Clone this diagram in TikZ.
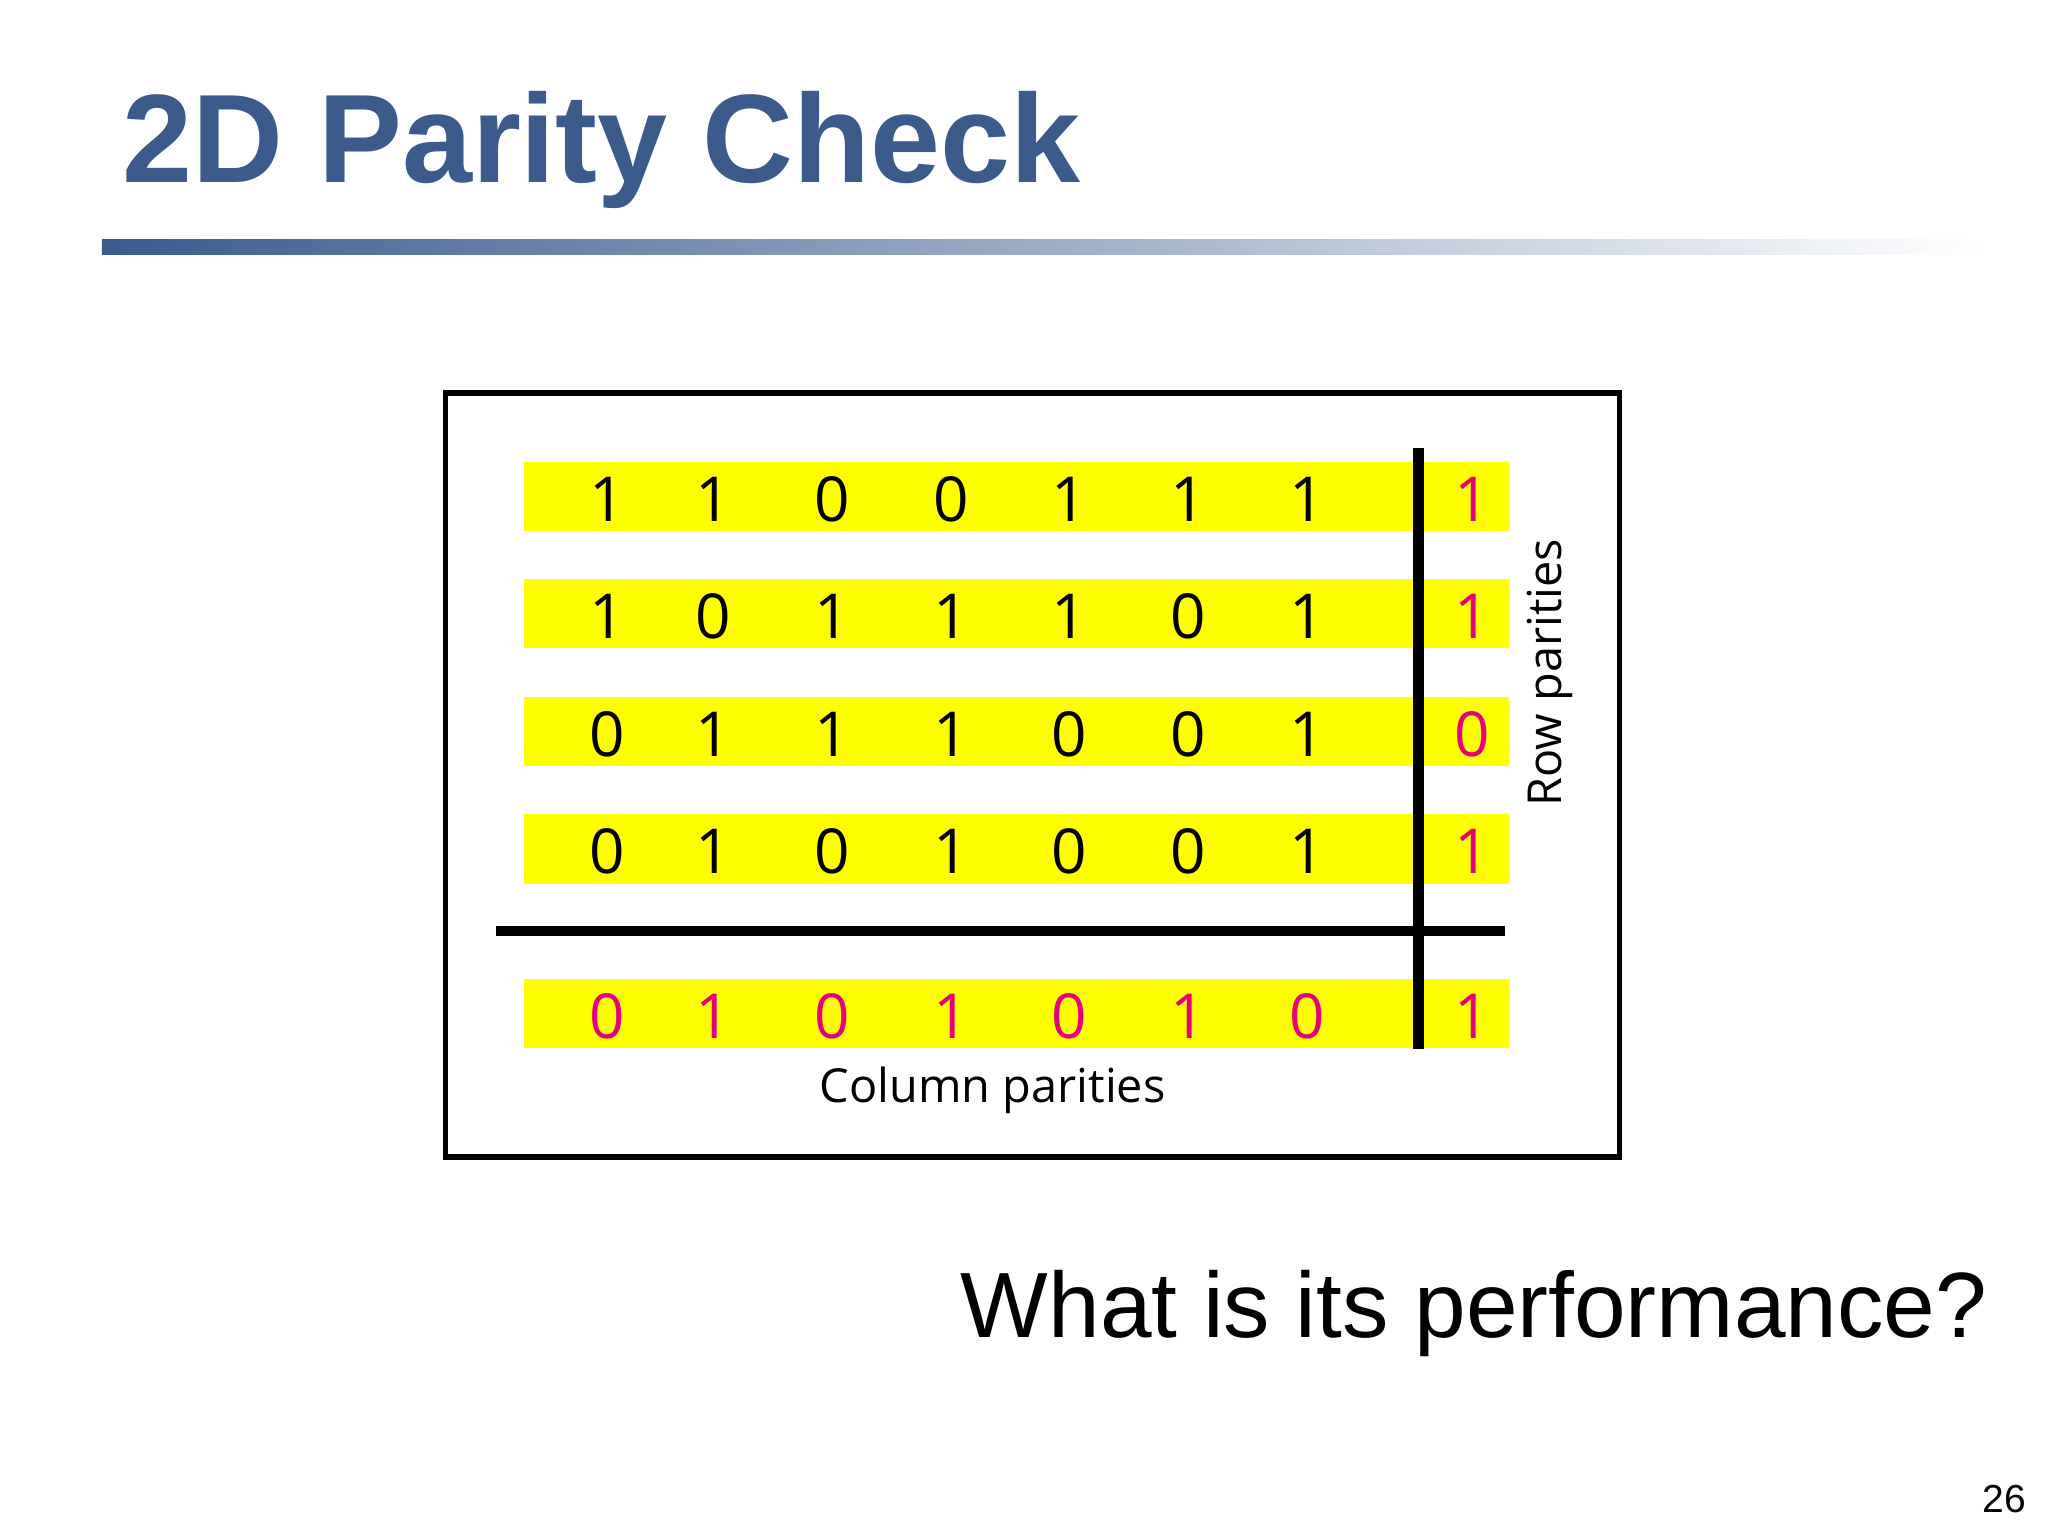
\documentclass[tikz,border=0pt]{standalone}
\usepackage{fontspec}
\setmainfont{Liberation Sans}
\newfontfamily\digfont{Open Sans}
\definecolor{titleblue}{HTML}{3B5B8C}
\definecolor{mag}{HTML}{E6007E}
\definecolor{yel}{HTML}{FFFF00}
\begin{document}
\begin{tikzpicture}[x=0.01cm,y=-0.01cm,
  dig/.style={font=\digfont\fontsize{13.5}{16}\selectfont,inner sep=0pt},
  par/.style={dig,text=mag},
  lab/.style={font=\digfont\fontsize{10.2}{12}\selectfont}]
\useasboundingbox (0,0) rectangle (1568,1176);
\fill[white] (0,0) rectangle (1568,1176);
\node[anchor=base west,inner sep=0pt,text=titleblue,font=\bfseries\fontsize{27.4}{30}\selectfont] (title) at (93,140) {2D Parity Check};
\shade[left color=titleblue,right color=white] (78,183) rectangle (1520,195);
\draw[line width=1.2pt] (341,301) rectangle (1240,886);
\foreach \y in {380,470,560,650,776} {\fill[yel] (401,\y-26.5) rectangle (1155,\y+26.5);}
\newcommand\putrow[4]{%
  \foreach \v [count=\i] in {#2} {
    \pgfmathsetmacro\xx{{465,546,637,728,819,910,1001}[\i-1]}
    \node[#4] (d#1\i) at (\xx,#1) {\v};}
  \node[par] (p#1) at (1127,#1) {#3};}
\putrow{382}{1,1,0,0,1,1,1}{1}{dig}
\putrow{472}{1,0,1,1,1,0,1}{1}{dig}
\putrow{562}{0,1,1,1,0,0,1}{0}{dig}
\putrow{652}{0,1,0,1,0,0,1}{1}{dig}
\putrow{778}{0,1,0,1,0,1,0}{1}{par}
\coordinate (vt) at (1086,343);
\coordinate (vb) at (1086,803);
\coordinate (hl) at (380,713);
\coordinate (hr) at (1152,713);
\draw[line width=2.2pt] (vt) -- (vb);
\draw[line width=2.2pt] (hl) -- (hr);
\node[lab] (cp) at (760,835) {Column parities};
\node[lab,rotate=90] (rp) at (1187,515) {Row parities};
\node[anchor=base west,inner sep=0pt,font=\fontsize{20.2}{24}\selectfont] (q) at (735,1024) {What is its performance?};
\node[anchor=base east,inner sep=0pt,font=\fontsize{8.5}{10}\selectfont] (pg) at (1552,1158) {26};
\end{tikzpicture}
\end{document}
